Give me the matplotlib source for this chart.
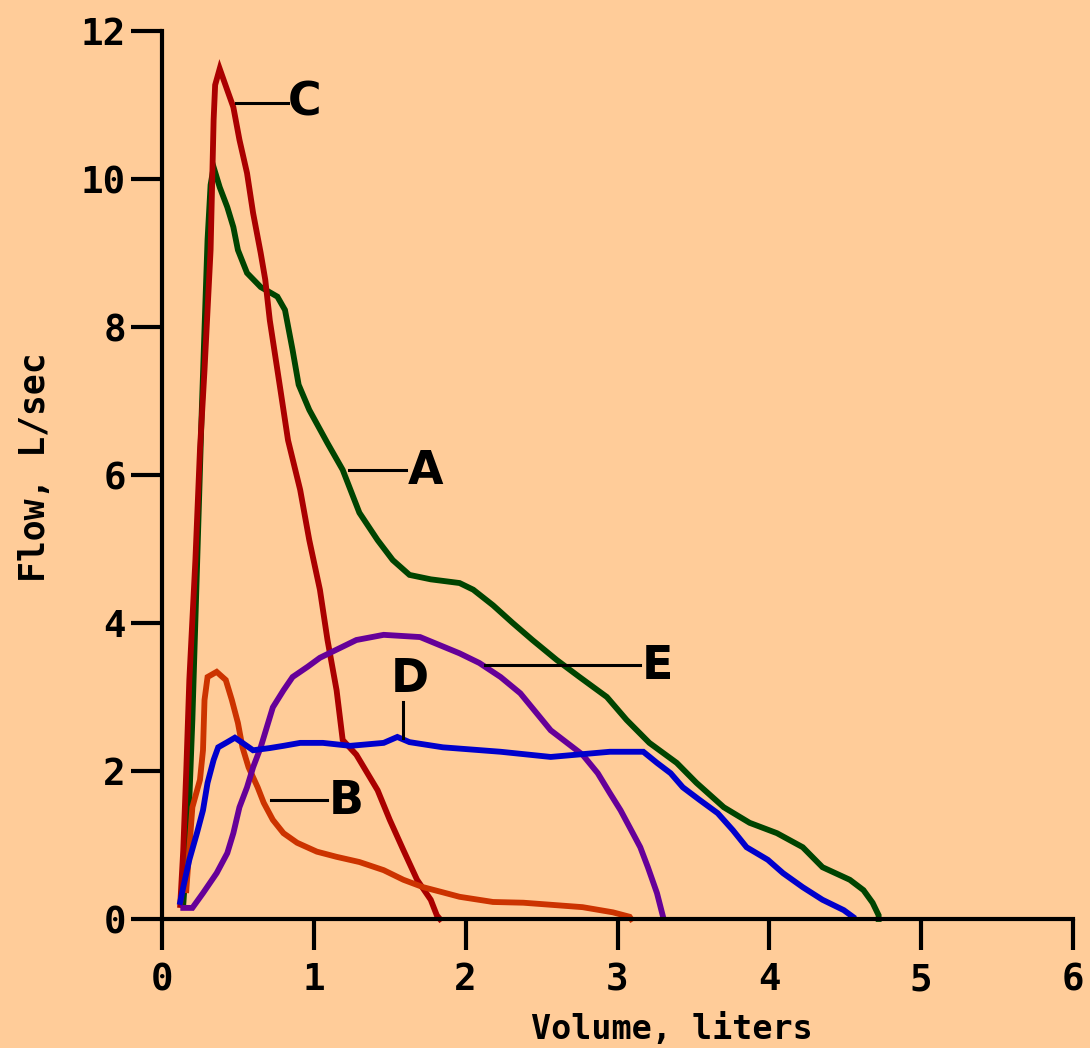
import matplotlib.pyplot as plt

# flow-volume curves, volume in liters / flow in L/sec
a_vol = [0.14, 0.16, 0.18, 0.20, 0.22, 0.24, 0.26, 0.28, 0.30, 0.32, 0.34, 0.38, 0.43, 0.47,
         0.50, 0.56, 0.65, 0.76, 0.81, 0.86, 0.90, 0.97, 1.09, 1.19, 1.30, 1.42, 1.52, 1.63,
         1.77, 1.96, 2.05, 2.18, 2.31, 2.44, 2.60, 2.75, 2.93, 3.06, 3.21, 3.39, 3.52, 3.70,
         3.87, 4.05, 4.22, 4.35, 4.53, 4.62, 4.68, 4.72, 4.72]
a_flow = [0.19, 0.80, 1.61, 2.69, 4.04, 5.39, 6.75, 7.97, 9.18, 9.92, 10.16, 9.89, 9.62, 9.35,
          9.04, 8.73, 8.54, 8.41, 8.23, 7.69, 7.22, 6.88, 6.43, 6.07, 5.49, 5.12, 4.85, 4.65,
          4.59, 4.54, 4.45, 4.24, 4.00, 3.77, 3.50, 3.27, 3.00, 2.69, 2.38, 2.11, 1.84, 1.51,
          1.30, 1.16, 0.97, 0.70, 0.53, 0.39, 0.22, 0.05, 0.0]

b_vol = [0.16, 0.20, 0.25, 0.27, 0.28, 0.30, 0.36, 0.42, 0.46, 0.50, 0.53, 0.57, 0.63, 0.67,
         0.73, 0.80, 0.89, 1.02, 1.15, 1.30, 1.46, 1.59, 1.72, 1.85, 1.96, 2.18, 2.38, 2.77,
         2.97, 3.08, 3.09]
b_flow = [0.39, 1.51, 1.88, 2.28, 2.96, 3.27, 3.34, 3.23, 2.96, 2.65, 2.32, 2.05, 1.78, 1.57,
          1.34, 1.16, 1.03, 0.91, 0.84, 0.77, 0.66, 0.53, 0.43, 0.36, 0.30, 0.23, 0.22, 0.16,
          0.09, 0.03, 0.0]

c_vol = [0.12, 0.14, 0.16, 0.18, 0.22, 0.25, 0.28, 0.32, 0.34, 0.35, 0.38, 0.43, 0.47, 0.51,
         0.56, 0.60, 0.65, 0.68, 0.71, 0.78, 0.83, 0.91, 0.97, 1.04, 1.09, 1.15, 1.19, 1.28,
         1.42, 1.50, 1.59, 1.68, 1.77, 1.81, 1.83]
c_flow = [0.19, 0.93, 2.01, 3.23, 4.85, 6.34, 7.42, 9.04, 10.80, 11.27, 11.49, 11.20, 10.97,
          10.53, 10.08, 9.54, 9.00, 8.64, 8.09, 7.15, 6.47, 5.80, 5.12, 4.45, 3.77, 3.09, 2.42,
          2.22, 1.74, 1.34, 0.93, 0.53, 0.26, 0.05, 0.0]

d_vol = [0.12, 0.14, 0.18, 0.23, 0.27, 0.30, 0.34, 0.37, 0.43, 0.48, 0.53, 0.60, 0.71, 0.80,
         0.91, 1.06, 1.24, 1.46, 1.55, 1.63, 1.85, 2.23, 2.56, 2.95, 3.17, 3.26, 3.35, 3.43,
         3.54, 3.66, 3.76, 3.85, 3.99, 4.09, 4.22, 4.35, 4.49, 4.55]
d_flow = [0.23, 0.43, 0.80, 1.16, 1.47, 1.84, 2.15, 2.32, 2.39, 2.45, 2.38, 2.28, 2.31, 2.34,
          2.38, 2.38, 2.34, 2.38, 2.46, 2.39, 2.32, 2.26, 2.19, 2.26, 2.26, 2.11, 1.97, 1.78,
          1.61, 1.43, 1.20, 0.97, 0.80, 0.62, 0.43, 0.26, 0.12, 0.03]

e_vol = [0.14, 0.20, 0.27, 0.36, 0.43, 0.47, 0.51, 0.56, 0.60, 0.65, 0.69, 0.73, 0.80, 0.86,
         0.96, 1.04, 1.15, 1.28, 1.46, 1.70, 1.83, 1.96, 2.09, 2.23, 2.36, 2.56, 2.77, 2.87,
         2.95, 3.02, 3.08, 3.15, 3.20, 3.26, 3.30]
e_flow = [0.15, 0.15, 0.35, 0.62, 0.89, 1.16, 1.51, 1.78, 2.05, 2.32, 2.59, 2.86, 3.09, 3.27,
          3.41, 3.53, 3.64, 3.77, 3.84, 3.81, 3.70, 3.59, 3.46, 3.27, 3.05, 2.55, 2.22, 1.97,
          1.70, 1.47, 1.24, 0.97, 0.70, 0.35, 0.03]

curves = [
    (a_vol, a_flow, '#004400'),
    (c_vol, c_flow, '#aa0000'),
    (b_vol, b_flow, '#cc3300'),
    (e_vol, e_flow, '#660099'),
    (d_vol, d_flow, '#0000cc'),
]

# curve labels: name, leader line (x0, x1, y0, y1), text anchor
labels = ['C', 'A', 'B', 'D', 'E']
leader_x = [(0.49, 0.83), (1.23, 1.61), (0.72, 1.09), (1.59, 1.59), (2.13, 3.15)]
leader_y = [(11.03, 11.03), (6.07, 6.07), (1.61, 1.61), (2.45, 2.93), (3.43, 3.43)]
text_xy = [(0.83, 11.03), (1.62, 6.05), (1.10, 1.59), (1.63, 3.23), (3.16, 3.41)]
text_ha = ['left', 'left', 'left', 'center', 'left']

x_ticks = [0, 1, 2, 3, 4, 5, 6]
y_ticks = [0, 2, 4, 6, 8, 10, 12]

bg = '#ffcc99'
mono = 'DejaVu Sans Mono'

fig = plt.figure(figsize=(10.9, 10.48), dpi=100, facecolor=bg)
ax = fig.add_axes([162 / 1090, 1 - 919 / 1048, (1073 - 162) / 1090, (919 - 31) / 1048])
ax.set_facecolor(bg)

for xs, ys, col in curves:
    ax.plot(xs, ys, color=col, lw=4.2, solid_joinstyle='miter', clip_on=False)

for name, lx, ly, (tx, ty), ha in zip(labels, leader_x, leader_y, text_xy, text_ha):
    ax.plot(lx, ly, color='black', lw=2.2)
    ax.text(tx, ty, name, ha=ha, va='center', fontsize=33, fontweight='bold',
            family='DejaVu Sans')

ax.set_xlim(0, 6)
ax.set_ylim(0, 12)
ax.set_xticks(x_ticks)
ax.set_yticks(y_ticks)
ax.spines['top'].set_visible(False)
ax.spines['right'].set_visible(False)
for s in ('left', 'bottom'):
    ax.spines[s].set_linewidth(3)
ax.tick_params(axis='both', length=22, width=3, direction='out')
ax.tick_params(axis='x', pad=9)
ax.tick_params(axis='y', pad=4)
for lab in ax.get_xticklabels() + ax.get_yticklabels():
    lab.set_fontfamily(mono)
    lab.set_fontweight('bold')
    lab.set_fontsize(27)

fig.text(672 / 1090, 1 - 1030 / 1048, 'Volume, liters', ha='center', va='center',
         fontsize=24, fontweight='bold', family=mono)
fig.text(35 / 1090, 1 - 467 / 1048, 'Flow, L/sec', ha='center', va='center',
         rotation=90, fontsize=25, fontweight='bold', family=mono)

fig.savefig('out.png', dpi=100, facecolor=bg)
